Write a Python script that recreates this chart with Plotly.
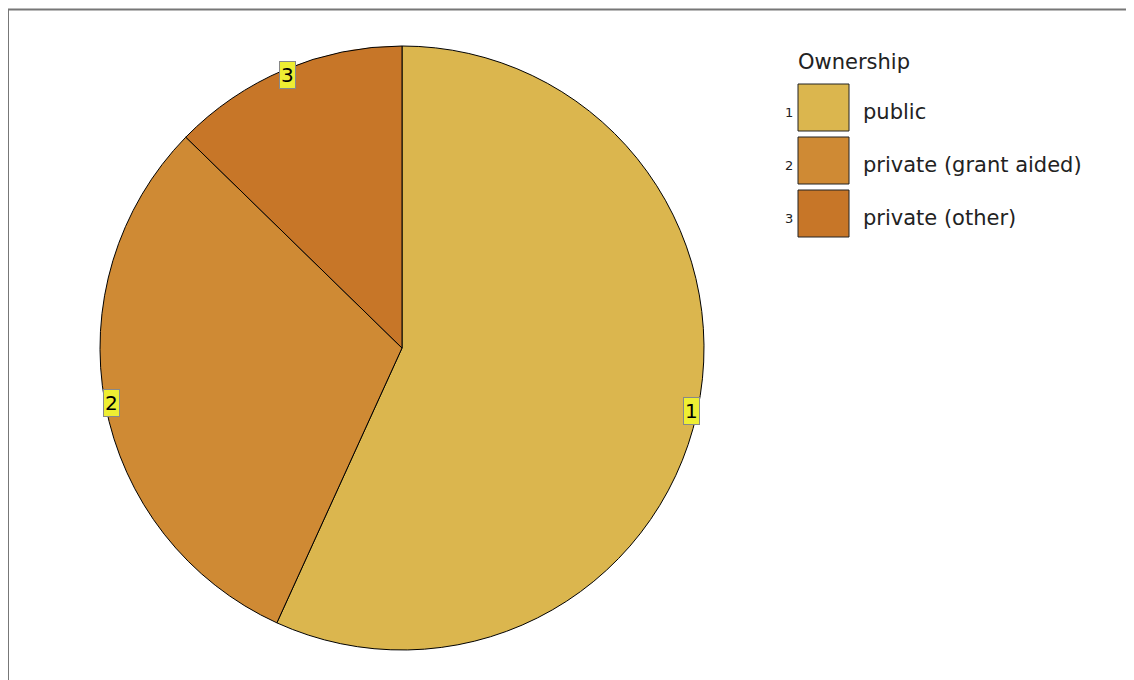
import math
import plotly.graph_objects as go

categories = ["public", "private (grant aided)", "private (other)"]
codes = ["1", "2", "3"]
values = [56.8, 30.5, 12.7]
colors = ["#dbb64e", "#cf8a34", "#c77628"]
legend_title = "Ownership"

W, H = 1134, 680
OFF = 8  # page body margin offset
cx, cy, R = 402 - OFF, 348 - OFF, 302

fig = go.Figure(go.Pie(
    labels=categories, values=values, sort=False, direction="clockwise",
    rotation=0, textinfo="none", hoverinfo="label+percent",
    marker=dict(colors=colors, line=dict(color="black", width=1)),
    domain=dict(x=[(cx - R) / W, (cx + R) / W], y=[(H - cy - R) / H, (H - cy + R) / H]),
    showlegend=False,
))

def px(x):
    return (x - OFF) / W

def py(y):
    return 1 - (y - OFF) / H

annotations = []
shapes = []
# slice number labels at slice mid-angles near the rim
total = sum(values)
cum = 0
RL = 296
for code, v in zip(codes, values):
    mid = (cum + v / 2) / total * 2 * math.pi
    cum += v
    x = 402 + RL * math.sin(mid)
    y = 348 - RL * math.cos(mid)
    annotations.append(dict(
        x=px(x), y=py(y), xref="paper", yref="paper", text=code, showarrow=False,
        font=dict(family="DejaVu Sans", size=20, color="black"),
        bgcolor="#eeee33", bordercolor="#888888", borderwidth=1, borderpad=1,
        xanchor="center", yanchor="middle",
    ))

# frame
shapes.append(dict(type="rect", xref="paper", yref="paper",
                   x0=px(8), x1=px(1150), y0=py(700), y1=py(9.5),
                   line=dict(color="#777777", width=2)))

# custom legend
annotations.append(dict(x=px(796), y=py(62), xref="paper", yref="paper", text=legend_title,
                        showarrow=False, xanchor="left", yanchor="middle",
                        font=dict(family="DejaVu Sans", size=21, color="#222222")))
for i, (code, cat, col) in enumerate(zip(codes, categories, colors)):
    top = 84 + i * 53
    shapes.append(dict(type="rect", xref="paper", yref="paper",
                       x0=px(798), x1=px(849), y0=py(top + 47), y1=py(top),
                       fillcolor=col, line=dict(color="#222222", width=1)))
    annotations.append(dict(x=px(795), y=py(top + 28), xref="paper", yref="paper", text=code,
                            showarrow=False, xanchor="right", yanchor="middle",
                            font=dict(family="DejaVu Sans", size=13, color="#222222")))
    annotations.append(dict(x=px(861), y=py(top + 28), xref="paper", yref="paper", text=cat,
                            showarrow=False, xanchor="left", yanchor="middle",
                            font=dict(family="DejaVu Sans", size=21, color="#222222")))

fig.update_layout(width=W, height=H, margin=dict(l=0, r=0, t=0, b=0),
                  paper_bgcolor="white", plot_bgcolor="white",
                  annotations=annotations, shapes=shapes)
fig.write_html("out.html")
